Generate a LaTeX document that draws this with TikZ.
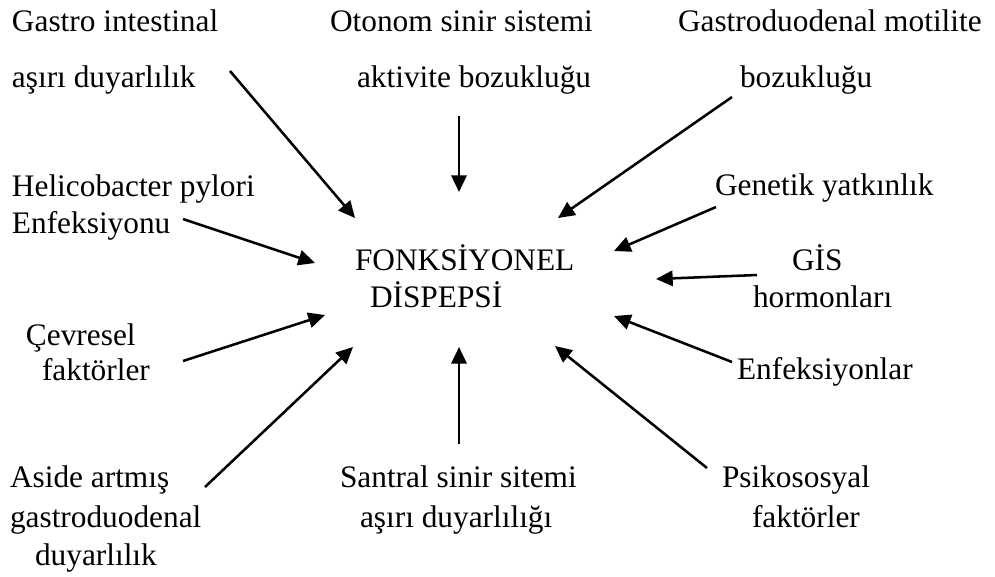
\documentclass[tikz,border=0pt]{standalone}
\usepackage{fontspec}
\setmainfont{Liberation Serif}
\usetikzlibrary{arrows.meta}
\begin{document}
\begin{tikzpicture}[x=0.75pt,y=-0.75pt,
  lbl/.style={anchor=base west,inner sep=0pt,outer sep=0pt,font=\fontsize{23.5}{28}\selectfont},
  arr/.style={line width=1.9pt,-{Triangle[length=12.5pt,width=11.5pt]}}]
\useasboundingbox (0,0) rectangle (995,576);
% labels
\node[lbl] (gi1) at (12,31) {Gastro intestinal};
\node[lbl] (gi2) at (12,87) {aşırı duyarlılık};
\node[lbl] (os1) at (330,31) {Otonom sinir sistemi};
\node[lbl] (os2) at (357,87) {aktivite bozukluğu};
\node[lbl] (gm1) at (678,31) {Gastroduodenal motilite};
\node[lbl] (gm2) at (740,87) {bozukluğu};
\node[lbl] (hp1) at (12,196) {Helicobacter pylori};
\node[lbl] (hp2) at (12,233) {Enfeksiyonu};
\node[lbl] (gy) at (715,195) {Genetik yatkınlık};
\node[lbl] (fd1) at (355,270) {FONKSİYONEL};
\node[lbl] (fd2) at (370,307) {DİSPEPSİ};
\node[lbl] (gh1) at (792,270) {GİS};
\node[lbl] (gh2) at (753,307) {hormonları};
\node[lbl] (cf1) at (26,345) {Çevresel};
\node[lbl] (cf2) at (42,380) {faktörler};
\node[lbl] (en) at (737,379) {Enfeksiyonlar};
\node[lbl] (as1) at (10,487) {Aside artmış};
\node[lbl] (as2) at (10,527) {gastroduodenal};
\node[lbl] (as3) at (35,565) {duyarlılık};
\node[lbl] (ss1) at (340,487) {Santral sinir sitemi};
\node[lbl] (ss2) at (360,527) {aşırı duyarlılığı};
\node[lbl] (ps1) at (722,487) {Psikososyal};
\node[lbl] (ps2) at (752,527) {faktörler};
% arrow ends
\coordinate (a1s) at (230,71);  \coordinate (a1e) at (355,218);
\coordinate (a2s) at (459,116); \coordinate (a2e) at (459,192);
\coordinate (a3s) at (732,97);  \coordinate (a3e) at (558,218);
\coordinate (a4s) at (183,219); \coordinate (a4e) at (315,263);
\coordinate (a5s) at (716,207); \coordinate (a5e) at (614,251);
\coordinate (a6s) at (757,275); \coordinate (a6e) at (656,279);
\coordinate (a7s) at (732,362); \coordinate (a7e) at (614,316);
\coordinate (a8s) at (183,361); \coordinate (a8e) at (325,315);
\coordinate (a9s) at (205,487); \coordinate (a9e) at (353,347);
\coordinate (a10s) at (459,444); \coordinate (a10e) at (459,347);
\coordinate (a11s) at (707,468); \coordinate (a11e) at (555,346);
\foreach \i in {1,...,11} \draw[arr] (a\i s) -- (a\i e);
\end{tikzpicture}
\end{document}
